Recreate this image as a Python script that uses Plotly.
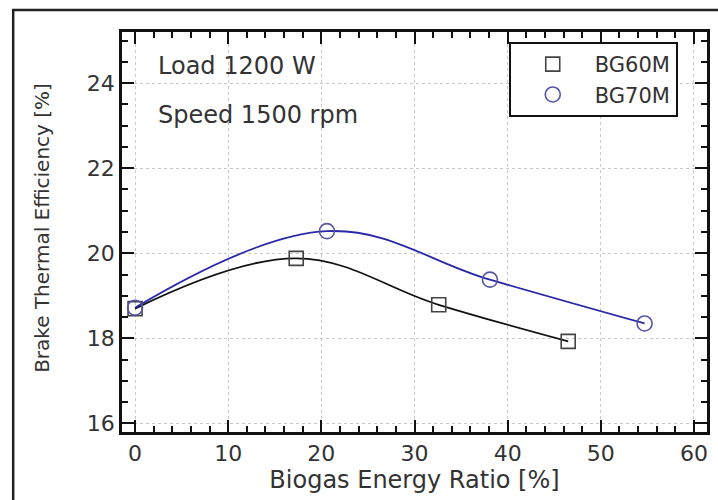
import plotly.graph_objects as go

# Data
bg60_x = [0, 17.3, 32.6, 46.5]
bg60_y = [18.70, 19.88, 18.79, 17.93]
bg70_x = [0, 20.6, 38.1, 54.7]
bg70_y = [18.72, 20.52, 19.38, 18.35]

x_ticks = [0, 10, 20, 30, 40, 50, 60]
y_ticks = [16, 18, 20, 22, 24]

FONT = "DejaVu Sans, Liberation Sans, Arial, sans-serif"
TXT = "#333333"
BLUE = "#2828a8"

fig = go.Figure()

# fitted curves
fig.add_trace(go.Scatter(x=bg60_x, y=bg60_y, mode="lines",
                         line=dict(color="#111111", width=1.8, shape="spline", smoothing=1.1),
                         showlegend=False, hoverinfo="skip"))
fig.add_trace(go.Scatter(x=bg70_x, y=bg70_y, mode="lines",
                         line=dict(color=BLUE, width=1.8, shape="spline", smoothing=1.1),
                         showlegend=False, hoverinfo="skip"))
# markers
fig.add_trace(go.Scatter(x=bg60_x, y=bg60_y, mode="markers", name="BG60M",
                         marker=dict(symbol="square-open", size=14, color="#444444",
                                     line=dict(width=1.6, color="#444444"))))
fig.add_trace(go.Scatter(x=bg70_x, y=bg70_y, mode="markers", name="BG70M",
                         marker=dict(symbol="circle-open", size=15, color="#5555aa",
                                     line=dict(width=1.6, color="#5555aa"))))

axis_common = dict(
    showline=True, linewidth=2.5, linecolor="#111111", mirror="allticks",
    ticks="inside", ticklen=12, tickwidth=2, tickcolor="#111111",
    showgrid=True, gridcolor="#c8c8c8", griddash="dot", gridwidth=1,
    zeroline=False, automargin=False,
    tickfont=dict(family=FONT, size=22, color=TXT),
)

fig.update_xaxes(**axis_common, range=[-1.4, 61.4], tickvals=x_ticks,
                 minor=dict(dtick=2, ticks="inside", ticklen=6, tickwidth=2,
                            tickcolor="#111111", showgrid=False),
                 title=dict(text="Biogas Energy Ratio [%]",
                            font=dict(family=FONT, size=24, color=TXT), standoff=4))
fig.update_yaxes(**axis_common, range=[15.8, 25.2], tickvals=y_ticks,
                 minor=dict(dtick=0.5, ticks="inside", ticklen=6, tickwidth=2,
                            tickcolor="#111111", showgrid=False))

# y axis title placed as rotated text
fig.add_annotation(x=-0.137, y=0.51, xref="paper", yref="paper",
                   text="Brake Thermal Efficiency [%]", textangle=-90,
                   showarrow=False, xanchor="center", yanchor="middle",
                   font=dict(family=FONT, size=20, color=TXT))

fig.add_annotation(x=0.058, y=0.915, xref="paper", yref="paper", text="Load 1200 W",
                   showarrow=False, xanchor="left", yanchor="middle",
                   font=dict(family=FONT, size=24, color=TXT))
fig.add_annotation(x=0.058, y=0.792, xref="paper", yref="paper", text="Speed 1500 rpm",
                   showarrow=False, xanchor="left", yanchor="middle",
                   font=dict(family=FONT, size=24, color=TXT))

# outer frame around the figure
fig.add_shape(type="rect", xref="paper", yref="paper",
              x0=-0.186, x1=1.04, y0=-0.25, y1=1.055,
              line=dict(color="#222222", width=2.5), fillcolor="rgba(0,0,0,0)")

fig.update_layout(
    width=718, height=500,
    margin=dict(l=122, r=11, t=32, b=68),
    paper_bgcolor="white", plot_bgcolor="white",
    font=dict(family=FONT, color=TXT),
    legend=dict(x=0.95, y=0.975, xanchor="right", yanchor="top",
                bordercolor="#111111", borderwidth=2, bgcolor="white",
                font=dict(family=FONT, size=21, color=TXT),
                tracegroupgap=0, itemwidth=74),
)

fig.write_html("out.html", config={"displayModeBar": False},
               post_script="document.body.style.margin='0';")
